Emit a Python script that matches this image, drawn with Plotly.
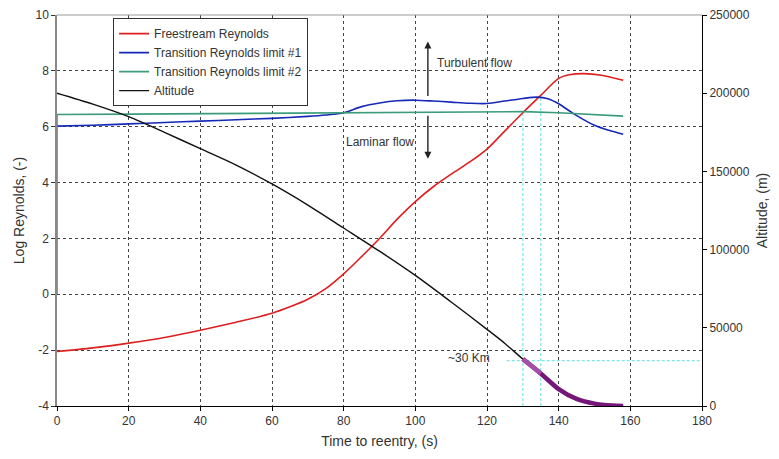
import plotly.graph_objects as go

# ---- data ----
t_fs = [0, 10, 20, 30, 40, 50, 60, 65, 70, 75, 80, 85, 90, 95, 100, 105, 110, 115, 120, 125, 130, 135, 140, 143, 147, 152, 158]
re_fs = [-2.05, -1.92, -1.75, -1.55, -1.29, -1.0, -0.68, -0.45, -0.18, 0.2, 0.73, 1.35, 2.0, 2.7, 3.32, 3.85, 4.3, 4.72, 5.2, 5.85, 6.5, 7.12, 7.73, 7.86, 7.9, 7.84, 7.66]

t_tr1 = [0, 10, 20, 30, 40, 50, 60, 70, 75, 80, 85, 90, 95, 100, 105, 110, 115, 120, 125, 130, 134, 137, 140, 144, 150, 154, 158]
re_tr1 = [6.02, 6.05, 6.1, 6.15, 6.2, 6.25, 6.3, 6.37, 6.42, 6.5, 6.72, 6.85, 6.93, 6.95, 6.92, 6.88, 6.84, 6.83, 6.92, 7.01, 7.06, 7.0, 6.82, 6.48, 6.05, 5.87, 5.73]

t_tr2 = [0, 0, 20, 40, 60, 80, 100, 120, 130, 140, 150, 158]
re_tr2 = [0, 6.44, 6.45, 6.47, 6.49, 6.51, 6.53, 6.53, 6.54, 6.5, 6.43, 6.38]

t_alt = [0, 10, 20, 30, 40, 50, 60, 70, 80, 90, 100, 110, 120, 125, 130, 135, 140, 145, 150, 155, 158]
alt = [200000, 193000, 185000, 175000, 164500, 154000, 142000, 128500, 113800, 99000, 83500, 66500, 49000, 40000, 30000, 20800, 10800, 4500, 1500, 300, 0]

ref_times = [130, 135]          # cyan marker lines
ref_re_top = [6.5, 7.07]
ref_alt = 29000
ref_alt_start = 125.5

x_ticks = [0, 20, 40, 60, 80, 100, 120, 140, 160, 180]
y_ticks = [-4, -2, 0, 2, 4, 6, 8, 10]
y_labels = ["-4", "-2", "0", "2", "4", "6", "8", "10"]
y2_ticks = [0, 50000, 100000, 150000, 200000, 250000]
y2_labels = ["0", "50000", "100000", "150000", "200000", "250000"]

FONT = "Liberation Sans, Arial, sans-serif"
GREY = "#333333"

fig = go.Figure()
fig.add_trace(go.Scatter(x=t_fs, y=re_fs, mode="lines", name="Freestream Reynolds",
                         line=dict(color="#DD1F1F", width=1.6, shape="spline", smoothing=0.8)))
fig.add_trace(go.Scatter(x=t_tr1, y=re_tr1, mode="lines", name="Transition Reynolds limit #1",
                         line=dict(color="#1528B8", width=1.6, shape="spline", smoothing=0.8)))
fig.add_trace(go.Scatter(x=t_tr2, y=re_tr2, mode="lines", name="Transition Reynolds limit #2",
                         line=dict(color="#3C9C7A", width=1.6)))
fig.add_trace(go.Scatter(x=t_alt, y=alt, mode="lines", name="Altitude", yaxis="y2",
                         line=dict(color="#111111", width=1.4, shape="spline", smoothing=0.8)))

# purple highlighted low-altitude part
sel = [i for i, t in enumerate(t_alt) if t >= ref_times[0]]
fig.add_trace(go.Scatter(x=[t_alt[i] for i in sel], y=[alt[i] for i in sel], mode="lines",
                         yaxis="y2", showlegend=False, hoverinfo="skip",
                         line=dict(color="#74167A", width=4.5, shape="spline", smoothing=0.8)))
sel2 = [i for i, t in enumerate(t_alt) if ref_times[0] <= t <= ref_times[1]]
fig.add_trace(go.Scatter(x=[t_alt[i] for i in sel2], y=[alt[i] for i in sel2], mode="lines",
                         yaxis="y2", showlegend=False, hoverinfo="skip",
                         line=dict(color="#A550A8", width=4.5)))

CYAN = "#7FE6E6"
shapes = []
for t, top in zip(ref_times, ref_re_top):
    shapes.append(dict(type="line", xref="x", yref="y", x0=t, x1=t, y0=-4, y1=top,
                       line=dict(color=CYAN, width=1.2, dash="3px,2px"), layer="below"))
shapes.append(dict(type="line", xref="x", yref="y2", x0=ref_alt_start, x1=180, y0=ref_alt, y1=ref_alt,
                   line=dict(color=CYAN, width=1.2, dash="3px,2px"), layer="below"))
shapes.append(dict(type="line", xref="paper", yref="paper", x0=0, x1=1, y0=1, y1=1,
                   line=dict(color="#999999", width=1)))
fig.update_layout(shapes=shapes)

annotations = [
    dict(x=103.5, y=9.05, ax=103.5, ay=7.05, xref="x", yref="y", axref="x", ayref="y",
         showarrow=True, arrowhead=2, arrowsize=1, arrowwidth=1.4, arrowcolor="#222", text=""),
    dict(x=103.5, y=4.85, ax=103.5, ay=6.45, xref="x", yref="y", axref="x", ayref="y",
         showarrow=True, arrowhead=2, arrowsize=1, arrowwidth=1.4, arrowcolor="#222", text=""),
    dict(x=105.5, y=8.27, xref="x", yref="y", text="Turbulent flow", showarrow=False,
         xanchor="left", font=dict(size=12, color=GREY, family=FONT)),
    dict(x=100.3, y=5.44, xref="x", yref="y", text="Laminar flow", showarrow=False,
         xanchor="right", font=dict(size=12, color=GREY, family=FONT)),
    dict(x=121.3, y=ref_alt, xref="x", yref="y2", text="~30 Km", showarrow=False,
         xanchor="right", yanchor="middle", yshift=3, font=dict(size=12, color=GREY, family=FONT)),
]
fig.update_layout(annotations=annotations)

grid = dict(showgrid=True, gridcolor="#444444", gridwidth=1, griddash="3px,3px")
fig.update_layout(
    width=771, height=451,
    margin=dict(l=49, r=77, t=7, b=53),
    plot_bgcolor="white", paper_bgcolor="white",
    font=dict(family=FONT, size=12, color=GREY),
    showlegend=True,
    legend=dict(x=0.087, y=0.992, xanchor="left", yanchor="top", bgcolor="white",
                bordercolor="#333", borderwidth=1, font=dict(size=12, color=GREY),
                itemwidth=30, tracegroupgap=0),
    xaxis=dict(range=[0, 180], tickvals=x_ticks, title=dict(text="Time to reentry, (s)", standoff=8),
               showline=True, linecolor="black", linewidth=1, mirror=False, automargin=False,
               ticks="outside", ticklen=4, tickcolor="black", zeroline=False, **grid),
    yaxis=dict(range=[-4, 10], tickvals=y_ticks, ticktext=y_labels,
               title=dict(text="Log Reynolds, (-)", standoff=8), automargin=False,
               showline=True, linecolor="#888888", linewidth=1.5,
               ticks="outside", ticklen=4, tickcolor="#333", zeroline=False, **grid),
    yaxis2=dict(range=[0, 250000], tickvals=y2_ticks, ticktext=y2_labels, overlaying="y", side="right",
                title=dict(text="Altitude, (m)", standoff=8), showgrid=False, zeroline=False,
                automargin=False,
                showline=True, linecolor="black", linewidth=1, ticks="outside", ticklen=4,
                tickcolor="black"),
)

fig.write_html("out.html")
